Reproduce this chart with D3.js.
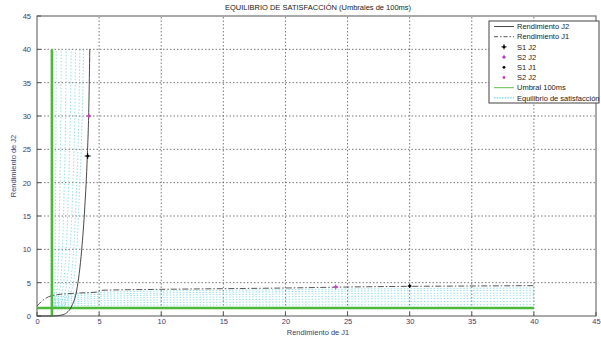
<!DOCTYPE html>
<html>
<head>
<meta charset="utf-8">
<script src="https://cdn.jsdelivr.net/npm/d3@7"></script>
<style>
  body { margin: 0; background: #fff; }
  svg { display: block; font-family: "Liberation Sans", Arial, sans-serif; }
</style>
</head>
<body>
<div id="chart"></div>
<script>
// axis ticks
const xTicks = [0, 5, 10, 15, 20, 25, 30, 35, 40, 45];
const yTicks = [0, 5, 10, 15, 20, 25, 30, 35, 40, 45];

// Rendimiento J2 (solid)
const j2X = [0, 1.3, 2.0, 2.4, 2.8, 3.2, 3.6, 3.85, 4.05, 4.18, 4.25];
const j2Y = [0, 0, 0.15, 0.5, 1.5, 3.9, 10, 16.4, 24, 32, 40];

// Rendimiento J1 (dash-dot)
const j1X = [0, 0.5, 1.3, 2.9, 4.9, 5.1, 10, 15, 20, 25, 30, 35, 40];
const j1Y = [1.5, 2.4, 3.1, 3.4, 3.6, 3.85, 4.0, 4.1, 4.2, 4.35, 4.45, 4.5, 4.55];

// umbral 100ms
const umbral = 1.2;
const umbralMax = 40;

// equilibrio de satisfaccion: vertical family (x at y levels) and horizontal family (y at x levels)
const eqVertLevels = [1.4, 5, 20, 40];
const eqVertX = [
  [1.35, 1.45, 1.5, 1.55],
  [1.45, 1.65, 1.85, 1.95],
  [1.55, 1.9, 2.2, 2.35],
  [1.7, 2.15, 2.55, 2.75],
  [1.85, 2.4, 2.9, 3.1],
  [2.0, 2.7, 3.2, 3.45],
  [2.15, 2.95, 3.45, 3.75]
];
const eqHorzLevels = [1.4, 5, 20, 40];
const eqHorzY = [
  [1.45, 1.6, 1.65, 1.7],
  [1.65, 1.95, 2.1, 2.2],
  [1.85, 2.3, 2.5, 2.65],
  [2.05, 2.65, 2.9, 3.05],
  [2.3, 2.95, 3.3, 3.45],
  [2.55, 3.25, 3.65, 3.85],
  [2.8, 3.55, 3.95, 4.2]
];

// points
const s1J2 = [[4.08, 24]];
const s2J2a = [[4.17, 30]];
const s1J1 = [[30, 4.5]];
const s2J2b = [[24.05, 4.35]];

const W = 601, H = 337;
const svg = d3.select("#chart").append("svg")
  .attr("width", W).attr("height", H);

const x = d3.scaleLinear().domain([0, 45]).range([37, 596]);
const y = d3.scaleLinear().domain([0, 45]).range([316, 16]);

const txtColor = "#3b3b6b";

// grid
const grid = svg.append("g").attr("stroke", "#555").attr("stroke-width", 0.8)
  .attr("stroke-dasharray", "1.5,2");
grid.selectAll(".gx").data(xTicks.slice(1, -1)).join("line")
  .attr("x1", d => x(d)).attr("x2", d => x(d))
  .attr("y1", y(0)).attr("y2", y(45));
grid.selectAll(".gy").data(yTicks.slice(1, -1)).join("line")
  .attr("x1", x(0)).attr("x2", x(45))
  .attr("y1", d => y(d)).attr("y2", d => y(d));

// axes
const xAxis = d3.axisBottom(x).tickValues(xTicks).tickSize(0).tickPadding(3);
const yAxis = d3.axisLeft(y).tickValues(yTicks).tickSize(0).tickPadding(6);
const gx = svg.append("g").attr("transform", `translate(0,${y(0)})`).call(xAxis);
const gy = svg.append("g").attr("transform", `translate(${x(0)},0)`).call(yAxis);
[gx, gy].forEach(g => {
  g.select(".domain").remove();
  g.selectAll("text").attr("fill", txtColor).attr("font-size", 7.5)
    .attr("font-family", "Liberation Sans, Arial, sans-serif");
});
// inner tick marks
svg.append("g").attr("stroke", "#555").selectAll("line").data(xTicks).join("line")
  .attr("x1", d => x(d)).attr("x2", d => x(d)).attr("y1", y(0)).attr("y2", y(0) - 4);
svg.append("g").attr("stroke", "#555").selectAll("line").data(yTicks).join("line")
  .attr("x1", x(0)).attr("x2", x(0) + 4).attr("y1", d => y(d)).attr("y2", d => y(d));

// box
svg.append("rect")
  .attr("x", x(0)).attr("y", y(45))
  .attr("width", x(45) - x(0)).attr("height", y(0) - y(45))
  .attr("fill", "none").attr("stroke", "#555").attr("stroke-width", 1);

const line = d3.line().x(d => x(d[0])).y(d => y(d[1]));
const lineC = d3.line().x(d => x(d[0])).y(d => y(d[1])).curve(d3.curveMonotoneY);
const lineH = d3.line().x(d => x(d[0])).y(d => y(d[1])).curve(d3.curveMonotoneX);

// equilibrium lines
const eqG = svg.append("g").attr("fill", "none").attr("stroke", "#6fd3e6")
  .attr("stroke-width", 0.8).attr("stroke-dasharray", "1.5,1.8").attr("opacity", 0.9);
eqG.selectAll(".v").data(eqVertX).join("path")
  .attr("d", xs => lineC(xs.map((v, i) => [v, eqVertLevels[i]])));
eqG.selectAll(".h").data(eqHorzY).join("path")
  .attr("d", ys => lineH(ys.map((v, i) => [eqHorzLevels[i], v])));

// umbral
const gG = svg.append("g").attr("stroke", "#4cb83a").attr("stroke-width", 2.6);
gG.append("line").attr("x1", x(umbral)).attr("x2", x(umbral)).attr("y1", y(0)).attr("y2", y(umbralMax));
gG.append("line").attr("x1", x(0)).attr("x2", x(umbralMax)).attr("y1", y(umbral)).attr("y2", y(umbral));

// J1 dash-dot
svg.append("path").datum(j1X.map((v, i) => [v, j1Y[i]]))
  .attr("d", lineH).attr("fill", "none").attr("stroke", "#444")
  .attr("stroke-width", 0.9).attr("stroke-dasharray", "6,2,1.5,2");

// J2 solid
svg.append("path").datum(j2X.map((v, i) => [v, j2Y[i]]))
  .attr("d", line.curve(d3.curveMonotoneX)).attr("fill", "none").attr("stroke", "#333")
  .attr("stroke-width", 0.9);

// markers
function plus(g, pts, color, size) {
  const m = g.selectAll(null).data(pts).join("g")
    .attr("transform", d => `translate(${x(d[0])},${y(d[1])})`);
  m.append("path").attr("d", `M${-size},0H${size}M0,${-size}V${size}`)
    .attr("stroke", color).attr("stroke-width", 1);
  m.append("circle").attr("r", 1.3).attr("fill", color);
}
plus(svg, s1J2, "#000", 3);
plus(svg, s2J2a, "#c040c0", 2.5);
plus(svg, s1J1, "#000", 2);
plus(svg, s2J2b, "#c040c0", 2.5);

// titles
svg.append("text").attr("x", 318).attr("y", 10).attr("text-anchor", "middle")
  .attr("font-size", 7.5).attr("fill", "#222")
  .text("EQUILIBRIO DE SATISFACCIÓN (Umbrales de 100ms)");
svg.append("text").attr("x", 318).attr("y", 335).attr("text-anchor", "middle")
  .attr("font-size", 7.5).attr("fill", txtColor).text("Rendimiento de J1");
svg.append("text").attr("transform", "translate(16,166) rotate(-90)").attr("text-anchor", "middle")
  .attr("font-size", 7.5).attr("fill", txtColor).text("Rendimiento de J2");

// legend
const legendItems = [
  { label: "Rendimiento J2", type: "line", color: "#333", dash: null },
  { label: "Rendimiento J1", type: "line", color: "#444", dash: "4,2,1.5,2" },
  { label: "S1 J2", type: "mark", color: "#000", size: 2.5 },
  { label: "S2 J2", type: "mark", color: "#c040c0", size: 2 },
  { label: "S1 J1", type: "dot", color: "#000" },
  { label: "S2 J2", type: "dot", color: "#c040c0" },
  { label: "Umbral 100ms", type: "line", color: "#4cb83a", dash: null },
  { label: "Equilibrio de satisfacción", type: "line", color: "#3cc8e0", dash: "1.5,1.2" }
];
const lg = svg.append("g");
lg.append("rect").attr("x", 489).attr("y", 21).attr("width", 110).attr("height", 82)
  .attr("fill", "#fff").attr("stroke", "#444").attr("stroke-width", 1);
const li = lg.selectAll(".li").data(legendItems).join("g")
  .attr("transform", (d, i) => `translate(0,${26.5 + i * 10.2})`);
li.filter(d => d.type === "line").append("line")
  .attr("x1", 494).attr("x2", 514).attr("y1", 0).attr("y2", 0)
  .attr("stroke", d => d.color).attr("stroke-width", 0.9)
  .attr("stroke-dasharray", d => d.dash);
li.filter(d => d.type === "mark").each(function (d) {
  const m = d3.select(this).append("g").attr("transform", "translate(504,0)");
  m.append("path").attr("d", `M${-d.size},0H${d.size}M0,${-d.size}V${d.size}`)
    .attr("stroke", d.color).attr("stroke-width", 1);
  m.append("circle").attr("r", 1.3).attr("fill", d.color);
});
li.filter(d => d.type === "dot").append("circle")
  .attr("cx", 504).attr("cy", 0).attr("r", 1.4).attr("fill", d => d.color);
li.append("text").attr("x", 517).attr("y", 2.6).attr("font-size", 7.5).attr("fill", "#222")
  .text(d => d.label);
</script>
</body>
</html>
